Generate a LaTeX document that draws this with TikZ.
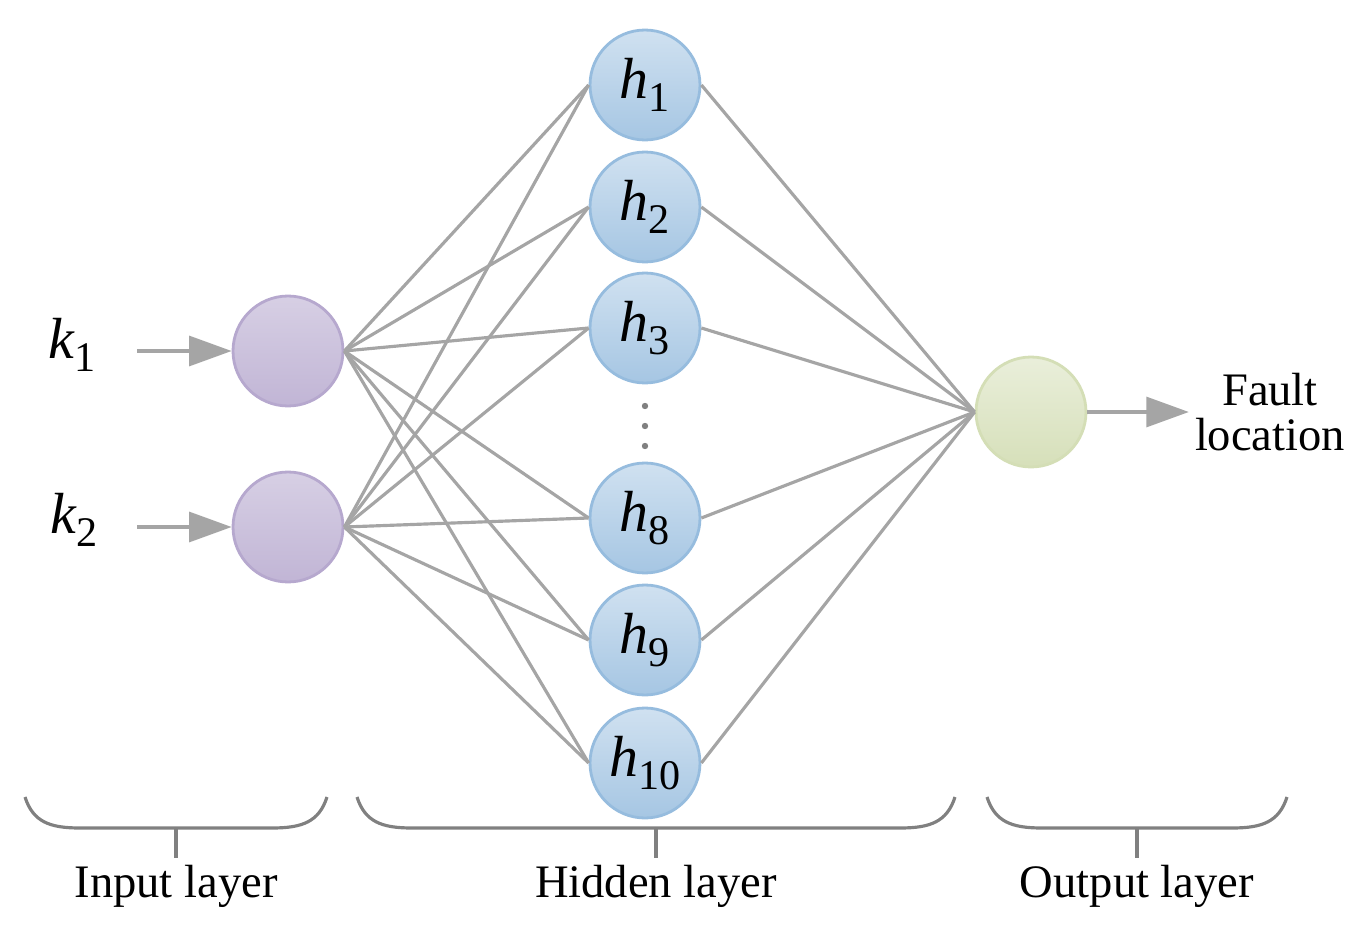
\documentclass[tikz,border=0pt]{standalone}
\usepackage{fontspec}
\setmainfont{Liberation Serif}
\usetikzlibrary{arrows.meta}
\definecolor{inbd}{RGB}{182,168,206}
\definecolor{hidbd}{RGB}{150,188,222}
\definecolor{outbd}{RGB}{212,222,182}
\definecolor{linkgray}{RGB}{165,165,165}
\newcommand{\unit}[2]{\textit{#1}\raisebox{-0.22em}{\fontsize{24}{24}\selectfont #2}}
\tikzset{
  neuron/.style={circle,minimum size=2.2cm,inner sep=0pt,line width=1.6pt},
  inneuron/.style={neuron,draw=inbd,top color=inbd!55!white,bottom color=inbd!85!white},
  hidneuron/.style={neuron,draw=hidbd,top color=hidbd!45!white,bottom color=hidbd!85!white},
  outneuron/.style={neuron,draw=outbd,top color=outbd!50!white,bottom color=outbd!95!white},
  link/.style={linkgray,line width=1.8pt},
  flow/.style={linkgray,line width=1.8pt,-{Triangle[length=0.85cm,width=0.6cm]}},
  brace/.style={gray,line width=1.8pt},
  lbl/.style={font=\fontsize{26.5}{30}\selectfont},
  mathlbl/.style={font=\fontsize{33}{36}\selectfont}
}
\begin{document}
\begin{tikzpicture}[x=0.02cm,y=-0.02cm]
\useasboundingbox (0,0) rectangle (1356,936);
% input layer
\node[inneuron] (i1) at (288,351) {};
\node[inneuron] (i2) at (288,527) {};
% hidden layer
\foreach \n/\y in {1/85,2/207,3/328,8/518,9/640,10/763}
  \node[hidneuron,mathlbl] (h\n) at (645,\y) {\unit{h}{\n}};
\foreach \y in {406,426,446}
  \fill[gray] (645,\y) circle (3.2);
% output layer
\node[outneuron] (o) at (1031,412) {};
% connections
\foreach \i in {1,2}
  \foreach \n in {1,2,3,8,9,10}
    \draw[link] (i\i.east) -- (h\n.west);
\foreach \n in {1,2,3,8,9,10}
  \draw[link] (h\n.east) -- (o.west);
% inputs and output
\node[mathlbl] (k1) at (72,345) {\unit{k}{1}};
\node[mathlbl] (k2) at (74,520) {\unit{k}{2}};
\coordinate (k1s) at (137,351);
\coordinate (k2s) at (137,527);
\draw[flow] (k1s) -- (i1);
\draw[flow] (k2s) -- (i2);
\node[lbl,align=center] (fault) at (1270,412) {Fault\\[-4pt]location};
\draw[flow] (o) -- (fault);
% braces
\foreach \a/\b/\name/\txt in {25/327/inp/Input layer,357/955/hid/Hidden layer,987/1287/outp/Output layer}{
  \draw[brace] (\a,797) .. controls (\a+8,822) and (\a+25,828) .. (\a+55,828)
    -- (\b-55,828) .. controls (\b-25,828) and (\b-8,822) .. (\b,797);
  \coordinate (\name t) at ({(\a+\b)/2},828);
  \coordinate (\name b) at ({(\a+\b)/2},858);
  \draw[brace] (\name t) -- (\name b);
  \node[lbl] (\name) at ({(\a+\b)/2},886) {\txt};
}
\end{tikzpicture}
\end{document}
